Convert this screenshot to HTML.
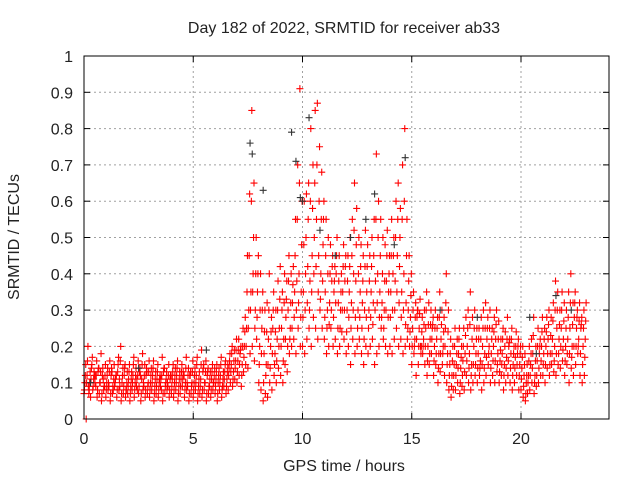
<!DOCTYPE html>
<html><head><meta charset="utf-8"><style>
body{margin:0;background:#fff}
svg text{font-family:"Liberation Sans",sans-serif;font-size:16px;fill:#222}
</style></head><body>
<svg id="chart" width="640" height="480" viewBox="0 0 640 480" xmlns="http://www.w3.org/2000/svg">
<rect width="640" height="480" fill="#fff"/>
<g id="grid"></g>
<g id="ticks"></g>
<g id="pts"></g>
<rect x="84" y="56" width="525" height="363" fill="none" stroke="#000" stroke-width="1"/>
<text x="344" y="33" text-anchor="middle">Day 182 of 2022, SRMTID for receiver ab33</text>
<text x="344" y="471" text-anchor="middle">GPS time / hours</text>
<text transform="translate(19,237) rotate(-90)" text-anchor="middle">SRMTID / TECUs</text>
</svg>
<script>
const xTicks=[0,5,10,15,20];
const yTicks=[0,0.1,0.2,0.3,0.4,0.5,0.6,0.7,0.8,0.9,1];
const yTickLabels=["0","0.1","0.2","0.3","0.4","0.5","0.6","0.7","0.8","0.9","1"];
const ya=[.07,0,.09,.06,.08,.10,.06,.07,.05,.08, .06,.08,.05,.07,.09,.06,.08,.05,.07,.06, .07,.05,.08,.06,.09,.07,.05,.08,.06,.07, .06,.08,.05,.07,.06,.09,.05,.07,.08,.06, .07,.06,.08,.05,.07,.09,.06,.08,.05,.07, .06,.08,.05,.07,.06,.08,.05,.07,.06,.08, .07,.05,.08,.06,.09,.07,.08,.10,.09,.11, .10,.12,.09,.13,.15,.14,.18,.20,.16,.22, .10,.08,.05,.07,.06,.10,.08,.12,.10,.14, .12,.10,.15,.13,.18,.20,.22,.18,.25,.20, .20,.18,.22,.25,.20,.28,.25,.22,.30,.25, .22,.18,.20,.25,.20,.22,.18,.20,.24,.22, .18,.20,.15,.22,.18,.20,.22,.18,.15,.20, .18,.20,.22,.15,.18,.20,.25,.22,.20,.18, .20,.18,.22,.25,.20,.22,.18,.20,.22,.20, .15,.18,.12,.15,.20,.18,.15,.12,.15,.18, .12,.15,.10,.13,.15,.12,.10,.08,.06,.08, .08,.10,.07,.09,.08,.12,.10,.08,.10,.12, .10,.12,.08,.10,.12,.15,.10,.12,.10,.13, .10,.12,.08,.10,.12,.10,.08,.10,.12,.08, .08,.06,.05,.07,.08,.10,.07,.09,.10,.12, .12,.10,.14,.12,.15,.13,.12,.15,.14,.16, .12,.15,.10,.14,.12,.15,.18,.12,.10,.12];
const yd=[.08,.10,.07,.11,.09,.12,.08,.10,.07,.09, .08,.10,.07,.09,.10,.08,.11,.07,.09,.08, .09,.07,.10,.08,.11,.09,.07,.10,.08,.09, .08,.10,.07,.09,.08,.11,.07,.09,.10,.08, .09,.08,.10,.07,.09,.11,.08,.10,.07,.09, .08,.10,.07,.09,.08,.10,.07,.09,.08,.10, .09,.07,.10,.08,.11,.09,.12,.13,.11,.14, .13,.15,.12,.17,.20,.25,.30,.35,.25,.28, .15,.18,.10,.12,.15,.14,.18,.15,.16,.20, .20,.16,.22,.20,.22,.25,.28,.30,.32,.28, .28,.30,.32,.30,.35,.40,.42,.35,.33,.38, .28,.25,.26,.30,.28,.32,.25,.25,.30,.30, .24,.28,.25,.30,.28,.25,.28,.25,.22,.28, .25,.28,.26,.30,.32,.28,.28,.25,.30,.28, .28,.30,.30,.35,.32,.28,.30,.26,.25,.24, .20,.20,.22,.20,.18,.20,.20,.16,.18,.22, .16,.18,.14,.18,.18,.20,.15,.12,.09,.12, .12,.14,.10,.12,.13,.16,.14,.12,.15,.15, .14,.14,.15,.14,.17,.18,.14,.16,.16,.15, .13,.15,.12,.14,.16,.14,.12,.14,.15,.12, .11,.09,.07,.10,.12,.14,.10,.12,.14,.16, .15,.15,.18,.15,.18,.16,.18,.18,.20,.19, .16,.18,.18,.17,.20,.20,.20,.18,.15,.17];
const yb=[.10,.12,.08,.14,.11,.09,.13,.10,.12,.09, .10,.09,.12,.08,.11,.13,.09,.10,.12,.08, .11,.09,.12,.10,.08,.13,.11,.09,.12,.10, .10,.12,.09,.11,.10,.08,.13,.10,.09,.11, .11,.10,.12,.09,.11,.13,.10,.09,.12,.10, .10,.12,.09,.11,.13,.10,.12,.09,.11,.10, .11,.10,.12,.09,.13,.11,.14,.15,.13,.16, .16,.18,.15,.20,.25,.30,.35,.40,.30,.35, .20,.25,.18,.15,.22,.20,.25,.18,.22,.25, .25,.22,.28,.30,.25,.32,.35,.38,.40,.35, .35,.40,.42,.38,.45,.50,.55,.45,.40,.48, .35,.30,.32,.38,.35,.40,.32,.30,.35,.38, .30,.35,.32,.40,.38,.30,.35,.32,.30,.35, .30,.35,.32,.38,.40,.35,.32,.30,.38,.35, .35,.40,.38,.45,.42,.35,.40,.32,.30,.28, .25,.22,.28,.25,.20,.22,.25,.20,.22,.25, .20,.22,.18,.22,.20,.25,.18,.15,.12,.15, .15,.18,.14,.16,.18,.20,.18,.15,.20,.18, .18,.16,.20,.18,.22,.20,.18,.20,.22,.18, .16,.18,.15,.17,.20,.18,.15,.17,.18,.15, .14,.12,.10,.12,.15,.18,.12,.16,.18,.20, .18,.20,.22,.18,.22,.20,.25,.22,.25,.22, .20,.22,.25,.20,.28,.25,.22,.25,.20,.22];
const ye=[.12,.16,.10,.15,.13,.12,.14,.13,.14,.12, .12,.13,.14,.11,.12,.15,.16,.12,.14,.10, .13,.11,.15,.12,.12,.14,.15,.12,.14,.13, .12,.14,.11,.13,.11,.12,.14,.11,.12,.12, .13,.12,.14,.11,.13,.12,.14,.12,.12,.13, .12,.15,.11,.15,.14,.13,.13,.11,.13,.12, .13,.12,.15,.11,.15,.13,.16,.18,.16,.19, .19,.19,.20,.24,.35,.45,.60,.50,.40,.40, .30,.30,.24,.24,.30,.24,.30,.24,.30,.33, .30,.32,.33,.38,.32,.37,.45,.55,.65,.48, .48,.50,.55,.60,.58,.65,.70,.60,.55,.55, .45,.40,.40,.42,.38,.45,.38,.35,.42,.42, .38,.42,.45,.52,.48,.40,.42,.38,.42,.42, .38,.42,.45,.55,.50,.45,.40,.38,.45,.40, .45,.45,.50,.55,.50,.55,.60,.45,.38,.34, .30,.28,.30,.29,.24,.26,.30,.26,.26,.26, .25,.25,.28,.26,.24,.32,.24,.18,.16,.20, .18,.22,.17,.20,.23,.25,.26,.22,.25,.22, .22,.22,.25,.25,.25,.25,.22,.24,.26,.22, .19,.22,.20,.22,.21,.22,.18,.20,.20,.18, .17,.15,.12,.16,.18,.23,.16,.20,.20,.24, .22,.24,.26,.23,.27,.30,.30,.26,.30,.27, .25,.28,.32,.26,.32,.28,.27,.26,.25,.27];
const yc=[.15,.20,.13,.17,.12,.16,.14,.18,.11,.15, .14,.16,.13,.15,.12,.17,.20,.14,.15,.13, .15,.13,.17,.14,.16,.12,.18,.15,.13,.16, .14,.16,.13,.15,.12,.17,.14,.13,.15,.12, .15,.14,.16,.13,.15,.12,.17,.14,.13,.16, .14,.17,.13,.19,.15,.16,.14,.13,.15,.14, .15,.14,.17,.13,.16,.15,.18,.20,.19,.22, .22,.20,.25,.28,.45,.62,.85,.65,.50,.45, .40,.35,.30,.32,.40,.28,.35,.30,.38,.42, .35,.40,.38,.45,.40,.42,.55,.70,.91,.60, .60,.62,.65,.80,.70,.85,.87,.75,.68,.60, .55,.50,.48,.45,.42,.50,.45,.40,.48,.45, .45,.50,.55,.65,.58,.50,.48,.45,.52,.48, .45,.50,.55,.73,.60,.55,.50,.48,.52,.45, .55,.50,.60,.65,.58,.70,.80,.55,.45,.40, .35,.32,.30,.33,.28,.30,.35,.32,.30,.28, .30,.28,.35,.30,.28,.40,.30,.22,.20,.25, .22,.25,.20,.25,.28,.30,.35,.28,.30,.25, .25,.28,.30,.32,.28,.30,.25,.28,.30,.27, .22,.25,.24,.28,.22,.25,.20,.24,.22,.20, .20,.18,.15,.20,.22,.28,.20,.25,.22,.28, .25,.28,.30,.28,.32,.38,.35,.30,.35,.32, .30,.35,.40,.32,.35,.30,.32,.28,.30,.32];
const blackX=[0.3,2.5,5.6,7.6,7.7,8.2,9.5,9.7,9.9,10.0,10.3,10.8,11.5,12.2,12.9,13.3,14.2,14.7,16.3,18.0,20.4,20.7,21.6,22.3];
const blackY=[.10,.14,.19,.76,.73,.63,.79,.71,.61,.60,.83,.52,.45,.50,.55,.62,.48,.72,.30,.28,.28,.18,.34,.30];
const X=t=>84+t*21.85, Y=v=>419-v*363;
const NS="http://www.w3.org/2000/svg";
const grid=document.getElementById('grid'),ticks=document.getElementById('ticks'),pts=document.getElementById('pts');
function mk(tag,a,parent){const e=document.createElementNS(NS,tag);for(const k in a)e.setAttribute(k,a[k]);parent.appendChild(e);return e;}
xTicks.forEach(t=>{
 const g=mk('line',{x1:X(t),x2:X(t),y1:56,y2:419,stroke:'#a0a0a0','stroke-dasharray':'2,3'},grid);
 
 
 mk('line',{x1:X(t),x2:X(t),y1:419,y2:413,stroke:'#000'},ticks);
 mk('line',{x1:X(t),x2:X(t),y1:56,y2:62,stroke:'#000'},ticks);
 const l=mk('text',{x:X(t),y:444,'text-anchor':'middle'},ticks);l.textContent=t;
 
 
});
yTicks.forEach((v,i)=>{
 const g=mk('line',{x1:84,x2:609,y1:Y(v),y2:Y(v),stroke:'#a0a0a0','stroke-dasharray':'2,3'},grid);
 
 
 mk('line',{x1:84,x2:90,y1:Y(v),y2:Y(v),stroke:'#000'},ticks);
 mk('line',{x1:603,x2:609,y1:Y(v),y2:Y(v),stroke:'#000'},ticks);
 const l=mk('text',{x:73,y:Y(v)+6,'text-anchor':'end'},ticks);l.textContent=yTickLabels[i];
 
 
});
function plus(t,v,c){
 const x=X(t),y=Y(v);
 const p=mk('path',{d:`M${x-3.5},${y}h7M${x},${y-3.5}v7`,stroke:c,'stroke-width':1.1,fill:'none'},pts);
 
 
}
[[ya,0],[yd,0.02],[yb,0.04],[ye,0.06],[yc,0.08]].forEach(([arr,off])=>arr.forEach((v,i)=>plus(i*0.1+off,v,'#ff0000')));
blackX.forEach((t,i)=>plus(t,blackY[i],'#333'));
</script>
</body></html>
